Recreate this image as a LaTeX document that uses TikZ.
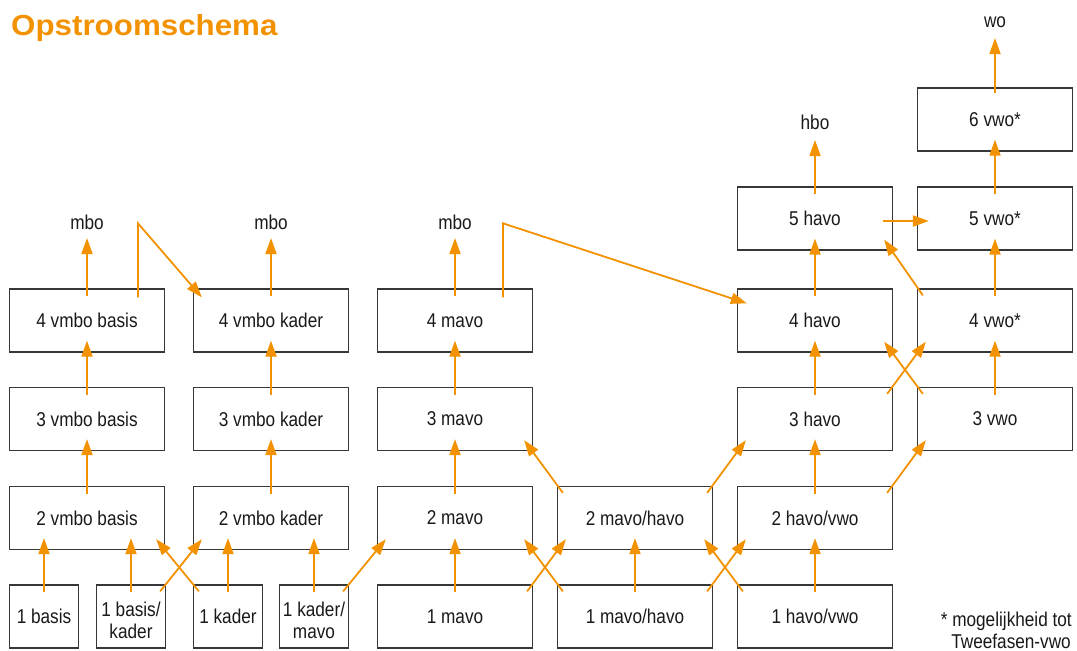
\documentclass[tikz,border=0pt]{standalone}
\usepackage{fontspec}
\setmainfont{Liberation Sans}[FakeStretch=0.86]
\newfontfamily\titlefont{Liberation Sans}[FakeStretch=1.08]
\usetikzlibrary{arrows.meta,calc}
\definecolor{oranje}{RGB}{243,146,0}
\definecolor{rand}{RGB}{55,55,55}
\definecolor{tekst}{RGB}{25,25,25}
\newcommand\uparr[2]{\draw[arr] ($(#1.north)+(0,8)$) -- ($(#1.north |- #2.south)+(0,-12)$);}
\newcommand\diagR[2]{\draw[arr] ($(#1.north east)+(-6,7)$) -- ($(#2.south west)+(9,-11)$);}
\newcommand\diagL[2]{\draw[arr] ($(#1.north west)+(6,7)$) -- ($(#2.south east)+(-9,-11)$);}
\newcommand\highr{\rule{0pt}{22pt}}
\begin{document}
\begin{tikzpicture}[x=1pt,y=-1pt,
  box/.style={draw=rand,line width=1.3pt,minimum width=155pt,minimum height=63pt,inner sep=0pt,
    font=\fontsize{20}{22}\selectfont,text=tekst},
  smallbox/.style={box,minimum width=69pt,align=center},
  lbl/.style={font=\fontsize{20}{22}\selectfont,anchor=base,inner sep=0pt,text=tekst},
  arr/.style={draw=oranje,line width=1.8pt,-{Triangle[length=16pt,width=11pt]}}]
\useasboundingbox (0,0) rectangle (1077,651);
\node[anchor=base west,inner sep=0pt,font=\titlefont\fontsize{29}{30}\selectfont\bfseries,text=oranje] (title) at (11,35) {Opstroomschema};
% row 1
\node[smallbox] (b1) at (44,616.5) {1 basis};
\node[smallbox] (bk1) at (131,616.5) {\highr 1 basis/\\kader};
\node[smallbox] (k1) at (228,616.5) {1 kader};
\node[smallbox] (km1) at (314,616.5) {\highr 1 kader/\\mavo};
\node[box] (m1) at (455,616.5) {1 mavo};
\node[box] (mh1) at (635,616.5) {1 mavo/havo};
\node[box] (hv1) at (815,616.5) {1 havo/vwo};
% row 2
\node[box] (vb2) at (87,518) {2 vmbo basis};
\node[box] (vk2) at (271,518) {2 vmbo kader};
\node[box] (m2) at (455,518) {2 mavo};
\node[box] (mh2) at (635,518) {2 mavo/havo};
\node[box] (hv2) at (815,518) {2 havo/vwo};
% row 3
\node[box] (vb3) at (87,419) {3 vmbo basis};
\node[box] (vk3) at (271,419) {3 vmbo kader};
\node[box] (m3) at (455,419) {3 mavo};
\node[box] (h3) at (815,419) {3 havo};
\node[box] (v3) at (995,419) {3 vwo};
% row 4
\node[box] (vb4) at (87,320.5) {4 vmbo basis};
\node[box] (vk4) at (271,320.5) {4 vmbo kader};
\node[box] (m4) at (455,320.5) {4 mavo};
\node[box] (h4) at (815,320.5) {4 havo};
\node[box] (v4) at (995,320.5) {4 vwo*};
% row 5, 6
\node[box] (h5) at (815,218.5) {5 havo};
\node[box] (v5) at (995,218.5) {5 vwo*};
\node[box] (v6) at (995,119.5) {6 vwo*};
% labels
\node[lbl] (mboA) at (87,229) {mbo};
\node[lbl] (mboB) at (271,229) {mbo};
\node[lbl] (mboC) at (455,229) {mbo};
\node[lbl] (hbo) at (815,129) {hbo};
\node[lbl] (wo) at (995,27) {wo};
\node[lbl,anchor=base east] (note1) at (1072,626) {* mogelijkheid tot};
\node[lbl,anchor=base east] (note2) at (1071,648) {Tweefasen-vwo};
% row 1 -> 2
\uparr{b1}{vb2}
\uparr{bk1}{vb2}
\diagR{bk1}{vk2}
\diagL{k1}{vb2}
\uparr{k1}{vk2}
\uparr{km1}{vk2}
\diagR{km1}{m2}
\uparr{m1}{m2}
\diagR{m1}{mh2}
\diagL{mh1}{m2}
\uparr{mh1}{mh2}
\diagR{mh1}{hv2}
\diagL{hv1}{mh2}
\uparr{hv1}{hv2}
% row 2 -> 3
\uparr{vb2}{vb3}
\uparr{vk2}{vk3}
\uparr{m2}{m3}
\diagL{mh2}{m3}
\diagR{mh2}{h3}
\uparr{hv2}{h3}
\diagR{hv2}{v3}
% row 3 -> 4
\uparr{vb3}{vb4}
\uparr{vk3}{vk4}
\uparr{m3}{m4}
\uparr{h3}{h4}
\diagR{h3}{v4}
\diagL{v3}{h4}
\uparr{v3}{v4}
% row 4 -> 5
\uparr{h4}{h5}
\diagL{v4}{h5}
\uparr{v4}{v5}
\draw[arr] ($(h5.east)+(-10,2.5)$) -- ($(v5.west)+(12,2.5)$);
\uparr{v5}{v6}
% exits
\draw[arr] ($(vb4.north)+(0,8)$) -- ($(mboA.base)+(0,9)$);
\draw[arr] ($(vk4.north)+(0,8)$) -- ($(mboB.base)+(0,9)$);
\draw[arr] ($(m4.north)+(0,8)$) -- ($(mboC.base)+(0,9)$);
\draw[arr] ($(h5.north)+(0,8)$) -- ($(hbo.base)+(0,11)$);
\draw[arr] ($(v6.north)+(0,6)$) -- ($(wo.base)+(0,11)$);
\draw[arr] ($(vb4.north)+(51,9)$) -- ++(0,-74) -- ($(vk4.north west)+(9,9)$);
\draw[arr] ($(m4.north)+(48,9)$) -- ++(0,-74) -- ($(h4.north west)+(10,15)$);
\end{tikzpicture}
\end{document}
